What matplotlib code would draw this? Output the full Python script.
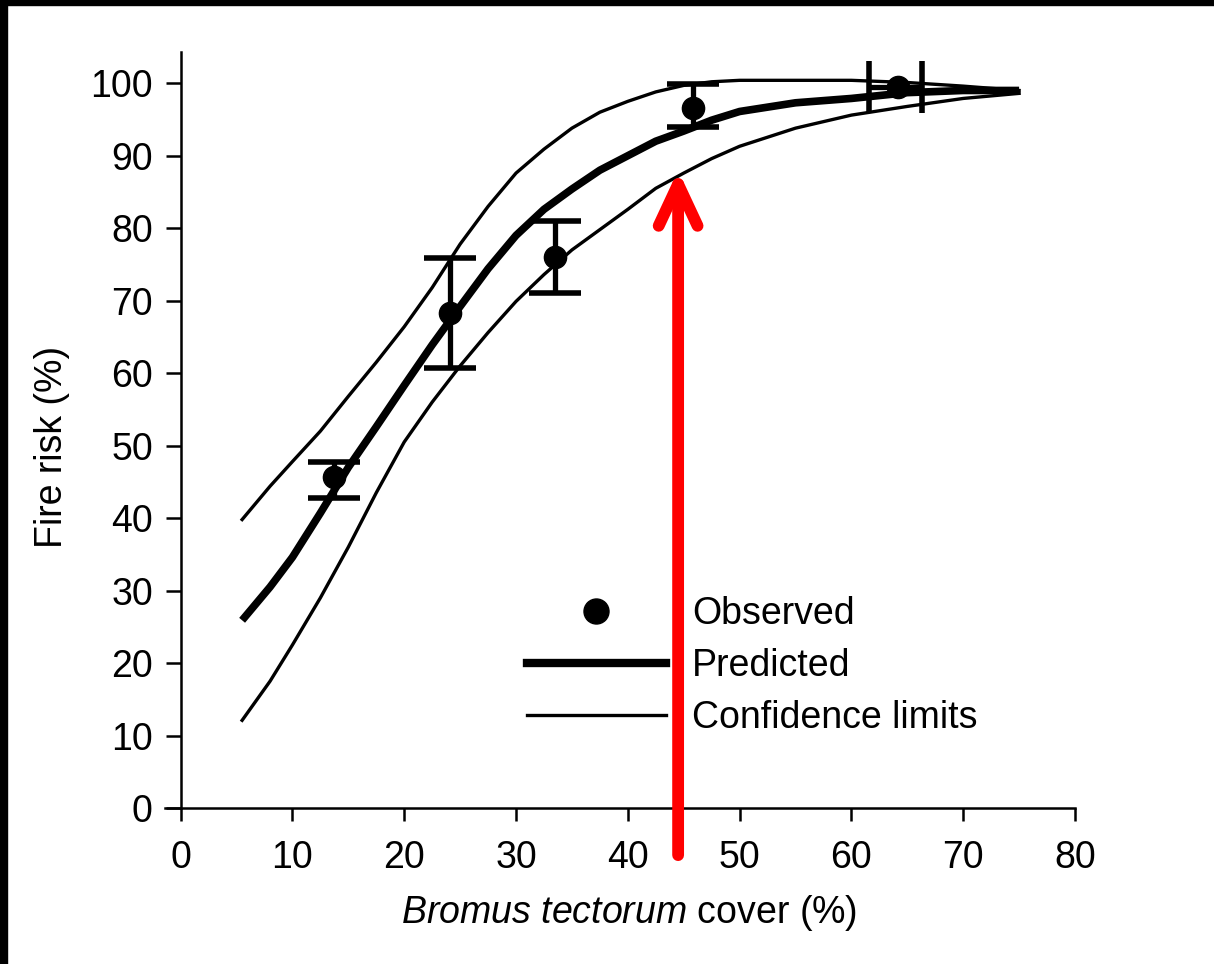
import matplotlib.pyplot as plt
from matplotlib.patches import Rectangle
from matplotlib.lines import Line2D

plt.rcParams['font.family'] = ['Liberation Sans', 'DejaVu Sans']
plt.rcParams['mathtext.fontset'] = 'custom'
plt.rcParams['mathtext.rm'] = 'Liberation Sans'
plt.rcParams['mathtext.it'] = 'Liberation Sans:italic'

# curva ajustada y limites de confianza
cover = [5.5, 8, 10, 12.5, 15, 17.5, 20, 22.5, 25, 27.5, 30, 32.5, 35, 37.5,
         40, 42.5, 45, 47.5, 50, 55, 60, 65, 70, 75]
predicted = [25.9, 30.5, 34.6, 40.7, 47.0, 52.6, 58.3, 63.9, 69.2, 74.4, 79.0, 82.6,
             85.4, 88.0, 90.0, 92.0, 93.4, 94.9, 96.1, 97.3, 97.9, 98.7, 99.0, 99.0]
upper = [39.8, 44.4, 47.8, 52.0, 56.8, 61.5, 66.4, 71.8, 77.8, 83.0, 87.6, 90.9,
         93.8, 96.0, 97.5, 98.8, 99.7, 100.2, 100.4, 100.4, 100.4, 100.1, 99.6, 99.0]
lower = [12.1, 17.5, 22.5, 29.0, 36.0, 43.5, 50.5, 56.0, 61.0, 65.6, 69.9, 73.6,
         77.0, 79.8, 82.6, 85.5, 87.6, 89.6, 91.3, 93.8, 95.6, 96.8, 97.9, 98.6]

# observados (los 4 primeros con barra vertical, el ultimo horizontal)
obs_x = [13.7, 24.1, 33.5, 45.8, 64.2]
obs_y = [45.7, 68.3, 76.0, 96.6, 99.5]
obs_lo = [42.8, 60.7, 71.0, 93.9]
obs_hi = [47.7, 75.9, 81.0, 99.9]
last_xlo, last_xhi = 61.6, 66.3

# flecha roja
arrow_x = 44.5
arrow_from = -6.5
arrow_to = 88.0

fig = plt.figure(figsize=(12.14, 9.64), dpi=100)
ax = fig.add_axes([0.1359, 0.1618, 0.7496, 0.7842])

ax.plot(cover, upper, color='black', lw=2.4)
ax.plot(cover, lower, color='black', lw=2.4)
ax.plot(cover, predicted, color='black', lw=5.5, solid_capstyle='butt')

yerr = [[y - lo for y, lo in zip(obs_y[:4], obs_lo)],
        [hi - y for y, hi in zip(obs_y[:4], obs_hi)]]
ax.errorbar(obs_x[:4], obs_y[:4], yerr=yerr, fmt='o', color='black', ms=16,
            elinewidth=3.8, capsize=19, capthick=4)
ax.errorbar(obs_x[4:], obs_y[4:], xerr=[[obs_x[4] - last_xlo], [last_xhi - obs_x[4]]],
            fmt='o', color='black', ms=16, elinewidth=3.8, capsize=19, capthick=4)

ax.set_xlim(-1.4, 80)
ax.set_ylim(0, 104.3)
ax.spines['left'].set_position(('data', 0))
ax.spines['top'].set_visible(False)
ax.spines['right'].set_visible(False)
for s in ax.spines.values():
    s.set_linewidth(1.8)
ax.set_xticks(range(0, 81, 10))
ax.set_yticks(range(0, 101, 10))
ax.tick_params(axis='both', labelsize=27, width=1.8)
ax.tick_params(axis='y', length=11, pad=9)
ax.tick_params(axis='x', length=9, pad=14)

ax.set_xlabel(r'$\it{Bromus\ tectorum}$ cover (%)', fontsize=27)
ax.set_ylabel('Fire risk (%)', fontsize=27)
ax.xaxis.set_label_coords(0.51, -0.113)
ax.yaxis.set_label_coords(-0.104, 0.477)

handles = [Line2D([], [], marker='o', ls='none', color='black', ms=18),
           Line2D([], [], color='black', lw=6),
           Line2D([], [], color='black', lw=2.4)]
fig.legend(handles, ['Observed', 'Predicted', 'Confidence limits'],
           loc='center left', bbox_to_anchor=(527 / 1214, 1 - 666 / 964),
           frameon=False, fontsize=27, handlelength=3.7, handletextpad=0.7,
           labelspacing=0.42, borderpad=0, borderaxespad=0)

ax.annotate('', xy=(arrow_x, arrow_to), xytext=(arrow_x, arrow_from),
            arrowprops=dict(arrowstyle='->,head_length=1.5,head_width=0.7',
                            color='red', lw=8.5, capstyle='round',
                            mutation_scale=20, shrinkA=0, shrinkB=0),
            annotation_clip=False)

# borde negro de la captura
fig.patches.append(Rectangle((0, 1 - 5 / 964), 1, 5 / 964, transform=fig.transFigure,
                             color='black', zorder=10))
fig.patches.append(Rectangle((0, 0), 7 / 1214, 1, transform=fig.transFigure,
                             color='black', zorder=10))

fig.savefig('out.png', dpi=100)
